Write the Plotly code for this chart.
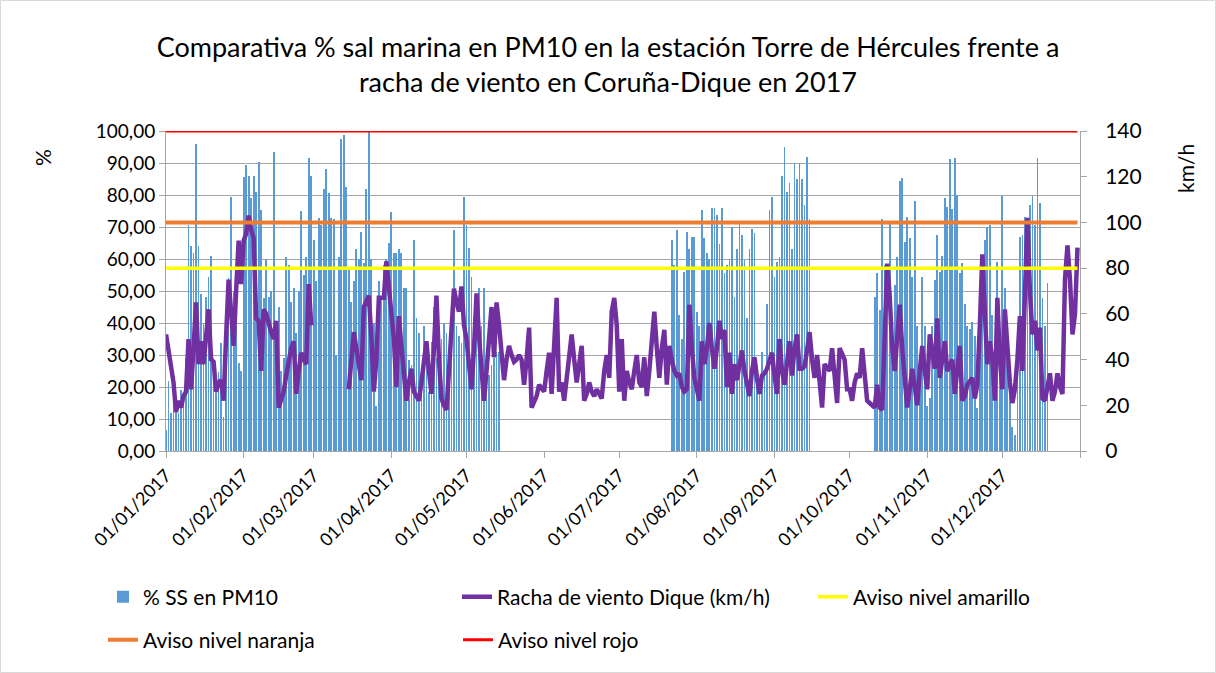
import datetime as dt
import plotly.graph_objects as go

# ---------------- data ----------------
# % sea salt in PM10 (daily), None = no data
ss_ene = [6.5, 22, 12, 15, 13, 12, 19, 18, 29, 70.6, 64, 62, 96, 64, 49, 40, 48, 54.5, 61, 29,
          22.7, 24.8, 33.6, 10.7, 40.4, 54, 79.5, 49.8, 39, 27.4, 25]
ss_feb = [85.7, 89.4, 86, 79, 86, 81, 90.4, 75.3, 47.7, 60, 48, 50, 93.5, 40, 45, 25, 29, 60.7,
          58, 46.7, 51, 37, 50, 75, 55, 60.7, 91.5, 86]
ss_mar = [66, 53, 72.7, 70.6, 82, 88, 80.5, 72.7, 72.4, 30, 60.7, 97.5, 98.7, 82.6, 57, 46.7, 53,
          63, 60, 68.5, 58.6, 82, 99.6, 60, 40, 14, 53, 48, 58, 60, 65]
ss_abr = [74.8, 62, 62, 63, 62, 51, 51, 28.4, 27, 66, 41.5, 37, 25, 39, 29, 18.5, 34, 45, 29, 39,
          35, 40, 37, 20.6, 29, 69, 39, 36, 33.6, 79.5]
ss_may = [70.6, 63.5, 54.5, 41.5, 39, 51, 39, 51, 29, 23.8, 27, 29, 31, 31] + [None] * 17
ss_jun = [None] * 30
ss_jul = [None] * 21 + [66, 58, 69, 42.5, 35, 56, 68.5, 63, 67, 67]
ss_ago = [43.5, 39, 75.3, 66.5, 62, 60, 76, 76, 73.7, 64.6, 75.8, 55.5, 58, 60, 70, 48, 63, 72,
          67.5, 59.7, 41.5, 63, 69.4, 68, 27, 20.6, 31, 25, 46, 75.3, 79.5]
ss_sep = [54.5, 59, 60.7, 86, 95, 81, 83.6, 63, 90, 85, 90, 85, 77, 92, 72.5] + [None] * 15
ss_oct = [None] * 10 + [48, 55.5, 44, 72.4, 58, 50, 72, 39, 52, 60.5, 84.4, 85.2, 65.4, 73.2,
                        66.5, 54.5, 78, 39, 21.7, 54.5, 39]
ss_nov = [14, 16.5, 39, 53.4, 67.5, 56, 61, 79, 76.4, 91.3, 75.6, 91.5, 80, 55.5, 58.6, 46, 39,
          38, 40.4, 36, 13.3, 39, 50, 66, 70, 70.6, 42.5, 32, 59, 29]
ss_dic = [79.8, 51, 31, 18.5, 7.6, 5, 39, 67, 67.5, 73.2, 69, 77, 79.8, 70.6, 91.5, 77.4, 47.7,
          39, 52.4] + [None] * 12

# Wind gust at Coruña-Dique (km/h, daily), None = no data
viento_ene = [51, 42, 37, 30, 17, 22, 19, 24, 26, 49, 27, 45, 65, 38, 48, 38, 49, 62, 40, 39,
              26, 30, 31, 22, 50, 75, 61, 46, 70, 92, 73]
viento_feb = [92, 95, 103, 97, 93, 58, 57, 35, 62, 60, 55, 52, 49, 57, 19, 22, 26, 33, 40, 45,
              48, 25, 35, 43, 40, 38, 73, 55]
viento_mar = [None] * 14 + [27, 38, 52, 45, 38, 31, 63, 65, 68, 50, 26, 40, 67, 67, 67, 83, 70]
viento_abr = [60, 49, 28, 59, 46, 35, 22, 30, 36, 26, 24, 22, 30, 40, 48, 35, 25, 45, 68, 40,
              23, 20, 18, 35, 55, 71, 65, 61, 72, 55]
viento_may = [49, 38, 27, 45, 69, 50, 35, 22, 35, 50, 63, 41, 65, 55, 40, 31, 40, 46, 42, 39,
              40, 42, 40, 29, 40, 54, 19, 22, 24, 29, 27]
viento_jun = [26, 35, 43, 25, 45, 67, 26, 30, 22, 32, 42, 51, 40, 30, 38, 46, 22, 25, 30, 26,
              24, 27, 25, 23, 35, 42, 32, 61, 67, 55]
viento_jul = [26, 49, 22, 35, 30, 27, 35, 42, 30, 28, 41, 24, 35, 49, 61, 45, 32, 45, 53, 29,
              46, 40, 35, 33, 34, 28, 26, 27, 64, 45, 32]
viento_ago = [27, 22, 48, 38, 45, 56, 45, 36, 45, 57, 49, 53, 28, 43, 25, 38, 31, 38, 44, 35,
              30, 24, 35, 41, 32, 25, 33, 34, 36, 40, 43]
viento_sep = [33, 25, 49, 35, 29, 40, 48, 33, 45, 51, 36, 36, 37, 44, 52, 40, 32, 42, 30, 19,
              38, 36, 35, 45, 30, 21, 45, 42, 40, 27]
viento_oct = [27, 22, 30, 34, 32, 45, 33, 22, 21, 20, 19, 29, 19, 18, 50, 82, 68, 45, 35, 50,
              64, 45, 30, 19, 27, 36, 28, 20, 35, 46, 35]
viento_nov = [27, 51, 42, 36, 58, 32, 40, 48, 35, 38, 40, 25, 35, 46, 22, 24, 29, 31, 32, 23,
              29, 55, 86, 60, 38, 48, 40, 22, 67, 40]
viento_dic = [27, 62, 45, 30, 21, 27, 40, 59, 35, 70, 102, 70, 51, 57, 44, 54, 23, 22, 28, 34,
              22, 26, 34, 28, 25, 75, 90, 75, 51, 60, 89]

# warning levels (km/h)
aviso_amarillo = 80
aviso_naranja = 100
aviso_rojo = 140

meses = ["01/01/2017", "01/02/2017", "01/03/2017", "01/04/2017", "01/05/2017", "01/06/2017",
         "01/07/2017", "01/08/2017", "01/09/2017", "01/10/2017", "01/11/2017", "01/12/2017"]
ticks_pct = [0, 10, 20, 30, 40, 50, 60, 70, 80, 90, 100]
ticks_kmh = [0, 20, 40, 60, 80, 100, 120, 140]

# ---------------- build ----------------
ss = ss_ene + ss_feb + ss_mar + ss_abr + ss_may + ss_jun + ss_jul + ss_ago + ss_sep + ss_oct + ss_nov + ss_dic
viento = (viento_ene + viento_feb + viento_mar + viento_abr + viento_may + viento_jun + viento_jul
          + viento_ago + viento_sep + viento_oct + viento_nov + viento_dic)
inicio = dt.date(2017, 1, 1)
fechas = [inicio + dt.timedelta(days=i) for i in range(len(ss))]
fin = fechas[-1]

FONT = "Lato"
GRID = "#A6A6A6"
W, H = 1216, 673
L, R, T, B = 166, 136, 131, 222
PW, PH = W - L - R, H - T - B


def px_x(x):
    return (x - L) / PW


def px_y(y):
    return (H - B - y) / PH


fig = go.Figure()
fig.add_trace(go.Bar(x=fechas, y=ss, name="% SS en PM10",
                     marker=dict(color="#5B9BD5", line=dict(width=0)),
                     width=0.32 * 86400000, legend="legend"))
fig.add_trace(go.Scatter(x=fechas, y=viento, name="Racha de viento Dique (km/h)", mode="lines",
                         line=dict(color="#7030A0", width=4.5), yaxis="y2", connectgaps=False, legend="legend2"))
fig.add_trace(go.Scatter(x=[inicio, fin], y=[aviso_amarillo, aviso_amarillo], name="Aviso nivel amarillo",
                         mode="lines", line=dict(color="#FFFF00", width=3.5), yaxis="y2", legend="legend3"))
fig.add_trace(go.Scatter(x=[inicio, fin], y=[aviso_naranja, aviso_naranja], name="Aviso nivel naranja",
                         mode="lines", line=dict(color="#ED7D31", width=4), yaxis="y2", legend="legend4"))
fig.add_trace(go.Scatter(x=[inicio, fin], y=[aviso_rojo, aviso_rojo], name="Aviso nivel rojo",
                         mode="lines", line=dict(color="#FF0000", width=3), yaxis="y2", legend="legend5",
                         cliponaxis=False))

mes_vals = [dt.date(2017, m, 1) for m in range(1, 13)] + [dt.date(2018, 1, 1)]

leg_common = dict(orientation="h", xanchor="left", yanchor="middle", bgcolor="rgba(0,0,0,0)",
                  font=dict(family=FONT, size=21, color="#000"))

fig.update_layout(
    width=W, height=H,
    margin=dict(l=L, r=R, t=T, b=B),
    paper_bgcolor="white", plot_bgcolor="white",
    font=dict(family=FONT, color="#000"),
    bargap=0,
    title=dict(text="Comparativa % sal marina en PM10 en la estación Torre de Hércules frente a<br>"
                    "racha de viento en Coruña-Dique en 2017",
               x=0.5, xref="container", xanchor="center",
               y=1 - 57 / H, yref="container", yanchor="middle",
               font=dict(family=FONT, size=27, color="#000")),
    xaxis=dict(type="date", range=[dt.date(2017, 1, 1), dt.date(2018, 1, 1)],
               tickvals=mes_vals, ticktext=meses + [""], tickangle=-45,
               tickfont=dict(family=FONT, size=18, color="#000"),
               showgrid=False, showline=True, linecolor=GRID, linewidth=1,
               ticks="outside", ticklen=6, tickcolor=GRID, zeroline=False),
    yaxis=dict(range=[0, 100], tickvals=ticks_pct, ticktext=[f"{v},00" for v in ticks_pct],
               tickfont=dict(family=FONT, size=19, color="#000"),
               showgrid=True, gridcolor=GRID, gridwidth=1, showline=True, linecolor=GRID,
               ticks="outside", ticklen=6, tickcolor=GRID, zeroline=False),
    yaxis2=dict(range=[0, 140], tickvals=ticks_kmh, overlaying="y", side="right",
                tickfont=dict(family=FONT, size=21, color="#000"), ticklabelstandoff=14,
                showgrid=False, showline=True, linecolor=GRID,
                ticks="outside", ticklen=6, tickcolor=GRID, zeroline=False),
    legend=dict(x=px_x(103), y=px_y(597), **leg_common),
    legend2=dict(x=px_x(457), y=px_y(597), **leg_common),
    legend3=dict(x=px_x(813), y=px_y(597), **leg_common),
    legend4=dict(x=px_x(103), y=px_y(640), **leg_common),
    legend5=dict(x=px_x(458), y=px_y(640), **leg_common),
    annotations=[
        dict(text="%", textangle=-90, x=px_x(42), y=px_y(158), xref="paper", yref="paper",
             showarrow=False, font=dict(family=FONT, size=21, color="#000"), xanchor="center", yanchor="middle"),
        dict(text="km/h", textangle=-90, x=px_x(1185), y=px_y(169), xref="paper", yref="paper",
             showarrow=False, font=dict(family=FONT, size=21, color="#000"), xanchor="center", yanchor="middle"),
    ],
    shapes=[dict(type="rect", xref="paper", yref="paper",
                 x0=px_x(0.5), x1=px_x(W - 0.5), y0=px_y(H - 0.5), y1=px_y(0.5),
                 line=dict(color="#D9D9D9", width=1), layer="below")],
    showlegend=True,
)

fig.write_html("out.html", config={"displayModeBar": False},
               post_script="document.body.style.margin='0';")
